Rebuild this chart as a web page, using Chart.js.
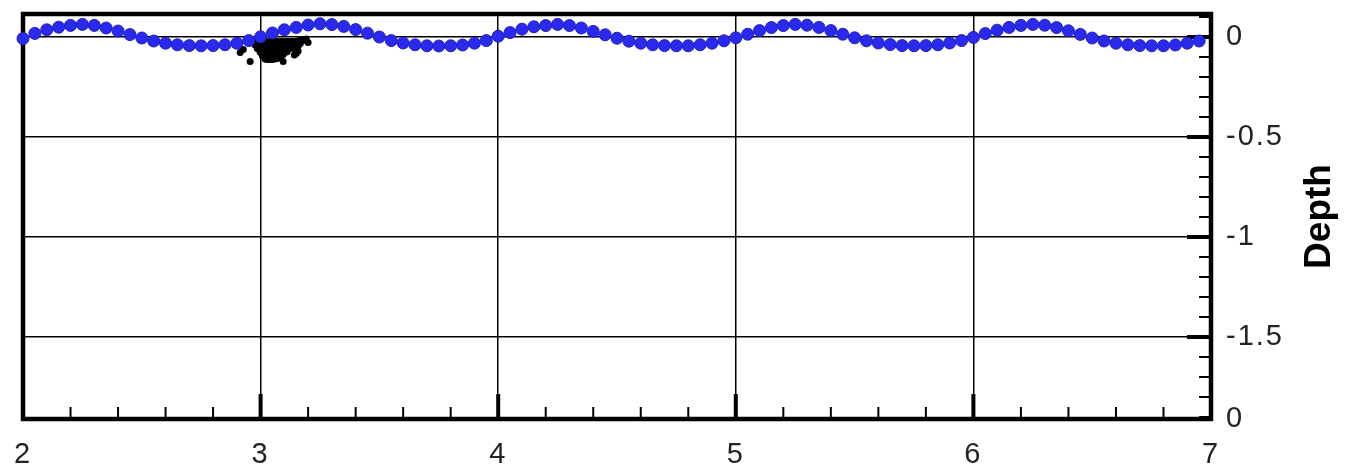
<!DOCTYPE html>
<html>
<head>
<meta charset="utf-8">
<script src="https://cdn.jsdelivr.net/npm/chart.js@4"></script>
<style>
  html, body { margin: 0; padding: 0; background: #fff; }
  #wrap { width: 1346px; height: 465px; }
</style>
</head>
<body>
<div id="wrap"><canvas id="depthChart" width="1346" height="465"></canvas></div>
<script>
// axis ranges and tick labels
const xMin = 2;
const xMax = 7;
const yMin = -1.91;
const yMax = 0.115;
const xTickValues = [2, 3, 4, 5, 6, 7];
const yTickValues = [yMin, -1.5, -1, -0.5, 0];
const yTickLabels = ["0", "-1.5", "-1", "-0.5", "0"];

// free surface points (blue)
const surfaceX = [
  2.00, 2.05, 2.10, 2.15, 2.20, 2.25, 2.30, 2.35, 2.40, 2.45,
  2.50, 2.55, 2.60, 2.65, 2.70, 2.75, 2.80, 2.85, 2.90, 2.95,
  3.00, 3.05, 3.10, 3.15, 3.20, 3.25, 3.30, 3.35, 3.40, 3.45,
  3.50, 3.55, 3.60, 3.65, 3.70, 3.75, 3.80, 3.85, 3.90, 3.95,
  4.00, 4.05, 4.10, 4.15, 4.20, 4.25, 4.30, 4.35, 4.40, 4.45,
  4.50, 4.55, 4.60, 4.65, 4.70, 4.75, 4.80, 4.85, 4.90, 4.95,
  5.00, 5.05, 5.10, 5.15, 5.20, 5.25, 5.30, 5.35, 5.40, 5.45,
  5.50, 5.55, 5.60, 5.65, 5.70, 5.75, 5.80, 5.85, 5.90, 5.95,
  6.00, 6.05, 6.10, 6.15, 6.20, 6.25, 6.30, 6.35, 6.40, 6.45,
  6.50, 6.55, 6.60, 6.65, 6.70, 6.75, 6.80, 6.85, 6.90, 6.95
];
const surfaceY = [
  -0.008, 0.018, 0.036, 0.049, 0.058, 0.063, 0.058, 0.045, 0.030, 0.012,
  -0.005, -0.020, -0.031, -0.039, -0.043, -0.044, -0.043, -0.039, -0.031, -0.018,
  0.001, 0.020, 0.036, 0.048, 0.060, 0.066, 0.062, 0.053, 0.037, 0.019,
  0.000, -0.018, -0.030, -0.039, -0.044, -0.045, -0.044, -0.040, -0.031, -0.018,
  0.004, 0.022, 0.039, 0.051, 0.057, 0.063, 0.057, 0.045, 0.028, 0.011,
  -0.006, -0.021, -0.031, -0.039, -0.043, -0.044, -0.044, -0.039, -0.031, -0.019,
  -0.004, 0.014, 0.032, 0.047, 0.057, 0.063, 0.059, 0.048, 0.032, 0.014,
  -0.004, -0.019, -0.030, -0.038, -0.043, -0.044, -0.043, -0.039, -0.030, -0.018,
  -0.002, 0.017, 0.034, 0.048, 0.058, 0.063, 0.059, 0.047, 0.031, 0.013,
  -0.005, -0.020, -0.031, -0.039, -0.043, -0.044, -0.044, -0.040, -0.031, -0.020
];

// particle cloud (black) near x = 3
const particleX = [
  2.965, 2.977, 2.986, 2.998, 3.007, 3.019, 3.028, 3.040, 3.049, 3.061, 3.070, 3.083, 3.091, 3.104, 3.112, 3.125, 3.133, 3.146, 3.154, 3.167, 3.175, 3.188,
  2.977, 2.986, 2.998, 3.007, 3.019, 3.028, 3.040, 3.049, 3.061, 3.070, 3.083, 3.091, 3.104, 3.112, 3.125, 3.133, 3.146, 3.154, 3.167,
  2.986, 2.998, 3.007, 3.019, 3.028, 3.040, 3.049, 3.061, 3.070, 3.083, 3.091, 3.104, 3.112, 3.125, 3.133, 3.142, 3.158,
  2.998, 3.007, 3.019, 3.028, 3.040, 3.049, 3.061, 3.070, 3.083, 3.091, 3.104, 3.112, 3.158,
  3.007, 3.019, 3.028, 3.040, 3.049, 3.061, 3.070, 3.083, 3.095, 3.142, 3.150,
  3.019, 3.028, 3.040, 3.049, 3.061, 3.070, 3.083,
  2.927, 2.914, 2.956, 3.192, 3.095, 3.200
];
const particleY = [
  -0.022, -0.022, -0.022, -0.022, -0.022, -0.022, -0.022, -0.022, -0.022, -0.022, -0.022, -0.022, -0.022, -0.022, -0.022, -0.022, -0.022, -0.022, -0.020, -0.018, -0.018, -0.015,
  -0.040, -0.040, -0.040, -0.040, -0.040, -0.040, -0.040, -0.040, -0.040, -0.040, -0.040, -0.040, -0.040, -0.040, -0.040, -0.038, -0.036, -0.034, -0.032,
  -0.058, -0.058, -0.058, -0.058, -0.058, -0.058, -0.058, -0.058, -0.058, -0.058, -0.058, -0.058, -0.058, -0.058, -0.056, -0.050, -0.045,
  -0.076, -0.076, -0.076, -0.076, -0.076, -0.076, -0.076, -0.076, -0.076, -0.076, -0.076, -0.074, -0.070,
  -0.094, -0.094, -0.094, -0.094, -0.094, -0.094, -0.094, -0.092, -0.088, -0.090, -0.082,
  -0.110, -0.112, -0.112, -0.112, -0.110, -0.108, -0.104,
  -0.063, -0.078, -0.122, -0.010, -0.122, -0.028
];

const xMinorStep = 0.2;
const yMinorStep = 0.1;

// frame and inward tick marks, drawn under the points
const frameTicks = {
  id: "frameTicks",
  beforeDraw(chart) {
    // the reference labels are spaced out a little
    chart.ctx.letterSpacing = "2px";
  },
  beforeDatasetsDraw(chart) {
    const { ctx, chartArea: a, scales } = chart;
    ctx.save();
    ctx.strokeStyle = "#000";
    ctx.lineCap = "butt";

    // bottom ticks
    for (let i = 1; i < Math.round((xMax - xMin) / xMinorStep); i++) {
      let v = xMin + i * xMinorStep;
      let px = scales.x.getPixelForValue(v);
      let major = Math.abs(v - Math.round(v)) < 1e-6;
      ctx.lineWidth = major ? 4 : 2;
      ctx.beginPath();
      ctx.moveTo(px, a.bottom);
      ctx.lineTo(px, a.bottom - (major ? 25 : 12));
      ctx.stroke();
    }

    // right ticks
    for (let v = 0.1; v > yMin; v -= yMinorStep) {
      let val = Math.round(v * 10) / 10;
      let py = scales.y.getPixelForValue(val);
      let major = Math.abs(val * 2 - Math.round(val * 2)) < 1e-6;
      ctx.lineWidth = major ? 4 : 2;
      ctx.beginPath();
      ctx.moveTo(a.right, py);
      ctx.lineTo(a.right - (major ? 24 : 12), py);
      ctx.stroke();
    }

    ctx.lineWidth = 4.5;
    ctx.strokeRect(a.left, a.top, a.right - a.left, a.bottom - a.top);
    ctx.restore();
  },
  afterDraw(chart) {
    const { ctx, chartArea: a } = chart;
    ctx.save();
    ctx.letterSpacing = "0px";
    ctx.fillStyle = "#000";
    ctx.font = "bold 37px 'Liberation Sans', Arial, sans-serif";
    ctx.textAlign = "center";
    ctx.textBaseline = "middle";
    ctx.translate(1320, (a.top + a.bottom) / 2);
    ctx.rotate(-Math.PI / 2);
    ctx.fillText("Depth", 0, 0);
    ctx.restore();
  }
};

try {
  let ctx = document.getElementById("depthChart").getContext("2d");

  new Chart(ctx, {
    type: "scatter",
    data: {
      datasets: [
        {
          label: "surface",
          data: surfaceX.map((x, i) => ({ x: x, y: surfaceY[i] })),
          backgroundColor: "rgb(42, 42, 238)",
          borderColor: "rgb(30, 30, 190)",
          borderWidth: 1,
          pointRadius: 6,
          showLine: false,
          clip: false,
          order: 0,
        },
        {
          label: "particles",
          data: particleX.map((x, i) => ({ x: x, y: particleY[i] })),
          backgroundColor: "#000",
          borderWidth: 0,
          pointRadius: 3.5,
          order: 1,
        },
      ],
    },
    options: {
      responsive: false,
      animation: false,
      events: [],
      layout: { padding: { left: 23, top: 14, right: 0, bottom: 0 } },
      plugins: {
        legend: { display: false },
        tooltip: { enabled: false },
      },
      scales: {
        x: {
          type: "linear",
          min: xMin,
          max: xMax,
          afterBuildTicks: (scale) => {
            scale.ticks = xTickValues.map((v) => ({ value: v }));
          },
          afterFit: (scale) => {
            scale.height = 46;
            scale.paddingLeft = 0;
            scale.paddingRight = 0;
          },
          ticks: {
            maxRotation: 0,
            autoSkip: false,
            padding: 19,
            color: "#222",
            font: { family: "'Liberation Sans', Arial, sans-serif", size: 29 },
            callback: (v) => String(v),
          },
          grid: {
            drawTicks: false,
            lineWidth: 1.5,
            color: (c) => (c.tick && (c.tick.value === xMin || c.tick.value === xMax) ? "rgba(0,0,0,0)" : "#000"),
          },
          border: { display: false },
        },
        y: {
          type: "linear",
          position: "right",
          min: yMin,
          max: yMax,
          afterBuildTicks: (scale) => {
            scale.ticks = yTickValues.map((v) => ({ value: v }));
          },
          afterFit: (scale) => {
            scale.width = 135;
            scale.paddingTop = 0;
            scale.paddingBottom = 0;
          },
          ticks: {
            autoSkip: false,
            padding: 15,
            color: "#222",
            font: { family: "'Liberation Sans', Arial, sans-serif", size: 29 },
            callback: (v, i) => yTickLabels[i],
          },
          grid: {
            drawTicks: false,
            lineWidth: 1.5,
            color: (c) => (c.tick && c.tick.value === yMin ? "rgba(0,0,0,0)" : "#000"),
          },
          border: { display: false },
        },
      },
    },
    plugins: [frameTicks],
  });
} catch (error) {
  console.log("while creating the chart:", error);
}
</script>
</body>
</html>
